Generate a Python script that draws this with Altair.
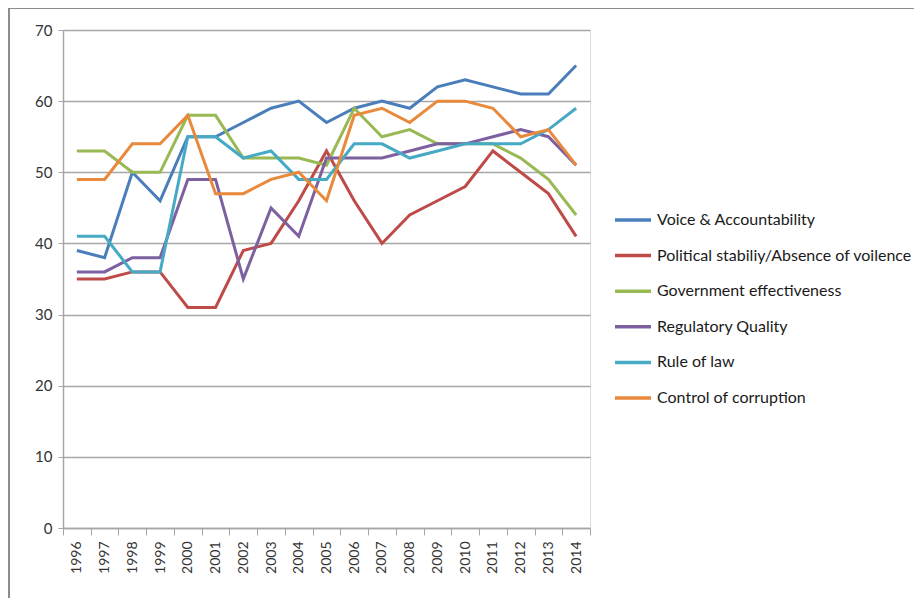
import altair as alt
import pandas as pd

years = [str(y) for y in range(1996, 2015)]
series_names = [
    "Voice & Accountability",
    "Political stabiliy/Absence of voilence",
    "Government effectiveness",
    "Regulatory Quality",
    "Rule of law",
    "Control of corruption",
]
voice = [39, 38, 50, 46, 55, 55, 57, 59, 60, 57, 59, 60, 59, 62, 63, 62, 61, 61, 65]
political = [35, 35, 36, 36, 31, 31, 39, 40, 46, 53, 46, 40, 44, 46, 48, 53, 50, 47, 41]
government = [53, 53, 50, 50, 58, 58, 52, 52, 52, 51, 59, 55, 56, 54, 54, 54, 52, 49, 44]
regulatory = [36, 36, 38, 38, 49, 49, 35, 45, 41, 52, 52, 52, 53, 54, 54, 55, 56, 55, 51]
rule_of_law = [41, 41, 36, 36, 55, 55, 52, 53, 49, 49, 54, 54, 52, 53, 54, 54, 54, 56, 59]
corruption = [49, 49, 54, 54, 58, 47, 47, 49, 50, 46, 58, 59, 57, 60, 60, 59, 55, 56, 51]
colors = ["#4A7EBB", "#BE4B48", "#98B954", "#7D60A0", "#46AAC5", "#E8893B"]
y_ticks = [0, 10, 20, 30, 40, 50, 60, 70]

all_series = [voice, political, government, regulatory, rule_of_law, corruption]
rows = []
for name, vals in zip(series_names, all_series):
    for yr, v in zip(years, vals):
        rows.append({"year": yr, "value": v, "series": name})
df = pd.DataFrame(rows)

FONT = "Lato"
GRID = "#a6a6a6"

lines = alt.Chart(df).mark_line(strokeWidth=3, clip=False).encode(
    x=alt.X(
        "year:O",
        scale=alt.Scale(type="band", paddingInner=0, paddingOuter=0),
        bandPosition=0.5,
        sort=years,
        axis=alt.Axis(
            title=None,
            tickBand="extent",
            labelAngle=270,
            labelFont=FONT,
            labelFontSize=14,
            labelColor="#333333",
            labelPadding=6,
            tickSize=7,
            tickColor=GRID,
            domainColor=GRID,
            domainWidth=1.5,
            grid=False,
        ),
    ),
    y=alt.Y(
        "value:Q",
        scale=alt.Scale(domain=[0, 70], nice=False),
        axis=alt.Axis(
            title=None,
            values=y_ticks,
            labelFont=FONT,
            labelFontSize=15,
            labelColor="#333333",
            labelPadding=6,
            tickSize=5,
            tickColor=GRID,
            domainColor=GRID,
            domainWidth=1.5,
            gridColor=GRID,
            gridWidth=1.5,
        ),
    ),
    color=alt.Color(
        "series:N",
        sort=series_names,
        scale=alt.Scale(domain=series_names, range=colors),
        legend=alt.Legend(
            orient="none",
            legendX=550,
            legendY=170,
            title=None,
            symbolType="stroke",
            symbolSize=1296,
            symbolStrokeWidth=3.5,
            labelFont=FONT,
            labelFontSize=16,
            labelColor="#1a1a1a",
            labelLimit=400,
            labelOffset=4,
            rowPadding=7.6,
        ),
    ),
    detail="series:N",
)

frame_left = alt.Chart(df).mark_rule(color="#8c8c8c", strokeWidth=1.5, clip=False).encode(
    x=alt.value(-54), y=alt.value(-22), y2=alt.value(700)
)
frame_top = alt.Chart(df).mark_rule(color="#8c8c8c", strokeWidth=1.5, clip=False).encode(
    x=alt.value(-54), x2=alt.value(1000), y=alt.value(-22)
)

chart = alt.layer(lines, frame_left, frame_top).properties(
    width=527,
    height=498,
    autosize=alt.AutoSizeParams(type="none"),
    padding={"left": 55, "top": 22, "right": 324, "bottom": 70},
).configure_view(stroke=None).configure(background="white")

chart.save("out.html", embed_options={"renderer": "svg", "actions": False})
